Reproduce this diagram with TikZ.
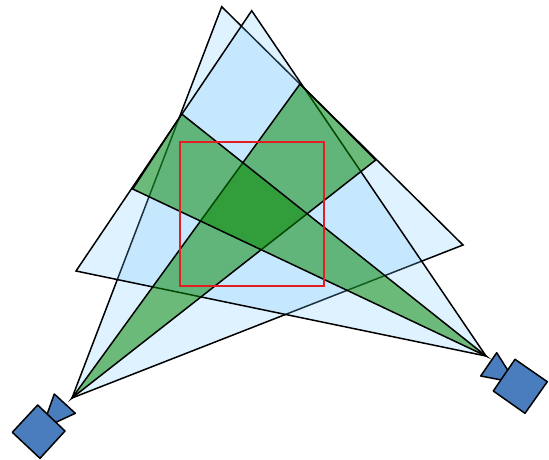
\documentclass[tikz,border=0pt]{standalone}
\definecolor{viewblue}{RGB}{119,201,255}
\definecolor{stripgreen}{RGB}{7,136,4}
\definecolor{cambody}{RGB}{74,125,190}
\definecolor{roi}{RGB}{226,30,36}
\tikzset{
  view/.style={draw=black,line width=1.5pt,line join=miter,fill=viewblue,fill opacity=.24},
  strip/.style={draw=black,line width=1.5pt,line join=miter,fill=stripgreen,fill opacity=.53},
  cam/.style={draw=black,line width=1.5pt,line join=round,fill=cambody},
  roibox/.style={draw=roi,line width=1.8pt}
}
\begin{document}
\begin{tikzpicture}[x=1pt,y=-1pt]
\useasboundingbox (0,0) rectangle (549,459);
\coordinate (L) at (72,398);
\coordinate (R) at (486,356);
\coordinate (A) at (221.7,6.7);
\coordinate (B) at (251.7,10.7);
\coordinate (C) at (463,245);
\coordinate (D) at (76,271);
\coordinate (S1) at (300,84);
\coordinate (S2) at (375.7,160);
\coordinate (S3) at (181.7,114);
\coordinate (S4) at (132.7,189);
\path[view] (L) -- (A) -- (C) -- cycle;
\path[view] (R) -- (B) -- (D) -- cycle;
\path[strip] (L) -- (S1) -- (S2) -- cycle;
\path[strip] (R) -- (S3) -- (S4) -- cycle;
\draw[roibox] (180.3,142.3) rectangle (324.3,286);
% left camera
\path[cam] (54.3,394) -- (75.3,413.3) -- (41.9,428.8) -- cycle;
\path[cam] (37.7,405) -- (65,431) -- (40,458.3) -- (12.3,432.3) -- cycle;
% right camera
\path[cam] (496.7,352.7) -- (515.7,382.7) -- (480.7,376) -- cycle;
\path[cam] (515,359.3) -- (547.3,381.7) -- (525,413.3) -- (493.3,391) -- cycle;
\end{tikzpicture}
\end{document}
